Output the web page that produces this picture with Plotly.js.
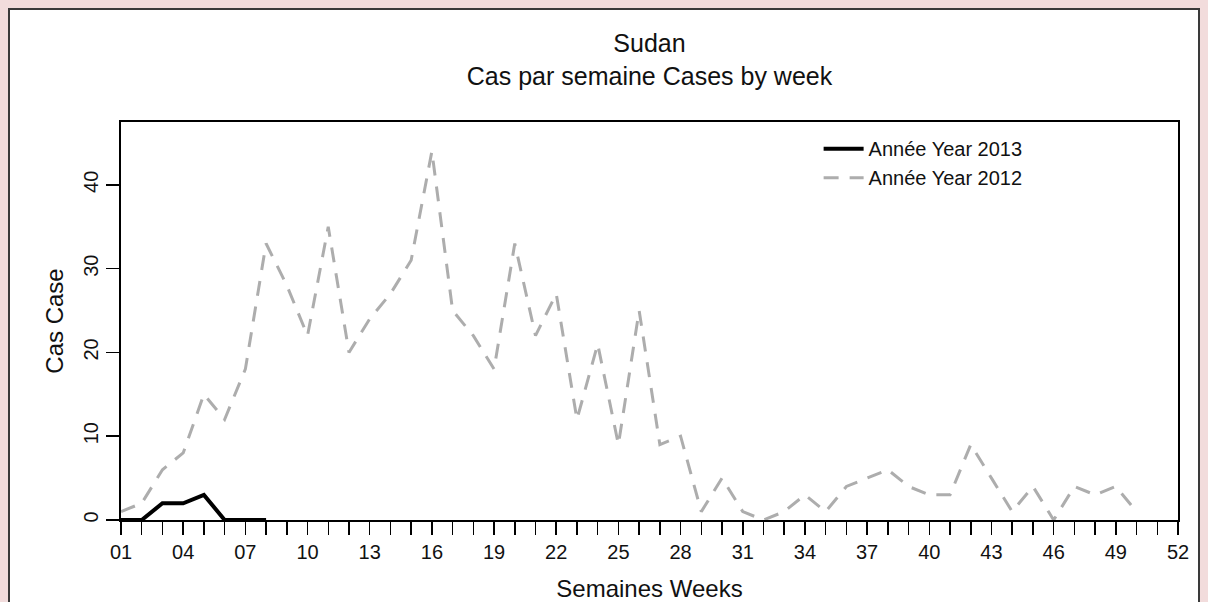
<!DOCTYPE html>
<html><head><meta charset="utf-8">
<script src="https://cdn.plot.ly/plotly-3.0.1.min.js"></script>
<style>
html,body{margin:0;padding:0;background:#f2dcdc;width:1208px;height:602px;overflow:hidden;}
#panel{position:absolute;left:8px;top:8px;width:1188px;height:600px;background:#fff;border:2px solid #3a3a3a;}
#chart{position:absolute;left:0;top:0;width:1208px;height:602px;}
</style></head><body>
<div id="panel"></div><div id="chart"></div>
<script>
const weeks2013 = [1,2,3,4,5,6,7,8];
const cases2013 = [0,0,2,2,3,0,0,0];
const weeks2012 = [1,2,3,4,5,6,7,8,9,10,11,12,13,14,15,16,17,18,19,20,21,22,23,24,25,
                   26,27,28,29,30,31,32,33,34,35,36,37,38,39,40,41,42,43,44,45,46,47,48,49,50];
const cases2012 = [1,2,6,8,15,12,18,33,28,22,35,20,24,27,31,44,25,22,18,33,22,27,12,21,9,
                   25,9,10,1,5,1,0,1,3,1,4,5,6,4,3,3,9,5,1,4,0,4,3,4,1];
const allWeeks = [1,2,3,4,5,6,7,8,9,10,11,12,13,14,15,16,17,18,19,20,21,22,23,24,25,26,
                  27,28,29,30,31,32,33,34,35,36,37,38,39,40,41,42,43,44,45,46,47,48,49,50,51,52];
const labelWeeks = [1,4,7,10,13,16,19,22,25,28,31,34,37,40,43,46,49,52];
const labelText = ["01","04","07","10","13","16","19","22","25","28","31","34","37","40","43","46","49","52"];
const yTicks = [0,10,20,30,40];

const FONT = "Liberation Sans, Arial, sans-serif";

const traces = [
  {x: weeks2012, y: cases2012, type:'scatter', mode:'lines', name:'Année Year 2012',
   line:{color:'#adadad', width:3, dash:'15px,11px'}, legendrank:2},
  {x: weeks2013, y: cases2013, type:'scatter', mode:'lines', name:'Année Year 2013',
   line:{color:'#000000', width:4}, legendrank:1}
];

const layout = {
  width:1208, height:602,
  margin:{l:121, r:30, t:122, b:82, pad:0},
  paper_bgcolor:'rgba(0,0,0,0)', plot_bgcolor:'#ffffff',
  font:{family:FONT, color:'#111'},
  title:{text:'Sudan<br>Cas par semaine Cases by week', font:{size:25, family:FONT, color:'#111'},
         x:0.5, xref:'paper', xanchor:'center', y:(602-52)/602, yref:'container', yanchor:'middle'},
  showlegend:true,
  legend:{x:0.66, y:0.982, xanchor:'left', yanchor:'top', bgcolor:'rgba(0,0,0,0)', itemwidth:40,
          font:{size:20, family:FONT, color:'#111'}, tracegroupgap:0},
  xaxis:{range:[1,52], tickvals:labelWeeks, ticktext:labelText, ticks:'outside', ticklen:13,
         tickwidth:1.5, tickcolor:'#000', showline:true, linewidth:2, linecolor:'#000', mirror:true,
         showgrid:false, zeroline:false, tickfont:{size:20, family:FONT, color:'#111'},
         minor:{tickvals:allWeeks, ticks:'outside', ticklen:13, tickwidth:1.5, tickcolor:'#000', showgrid:false},
         title:{text:'Semaines Weeks', font:{size:24, family:FONT, color:'#111'}, standoff:18}},
  yaxis:{range:[0,47.5], tickvals:yTicks, ticks:'outside', ticklen:13, tickwidth:1.5, tickcolor:'#000',
         showline:true, linewidth:2, linecolor:'#000', mirror:true, showgrid:false, zeroline:false,
         tickangle:-90, tickfont:{size:20, family:FONT, color:'#111'},
         title:{text:'Cas Case', font:{size:24, family:FONT, color:'#111'}, standoff:10}}
};

Plotly.newPlot('chart', traces, layout, {displayModeBar:false, staticPlot:true});
</script></body></html>
